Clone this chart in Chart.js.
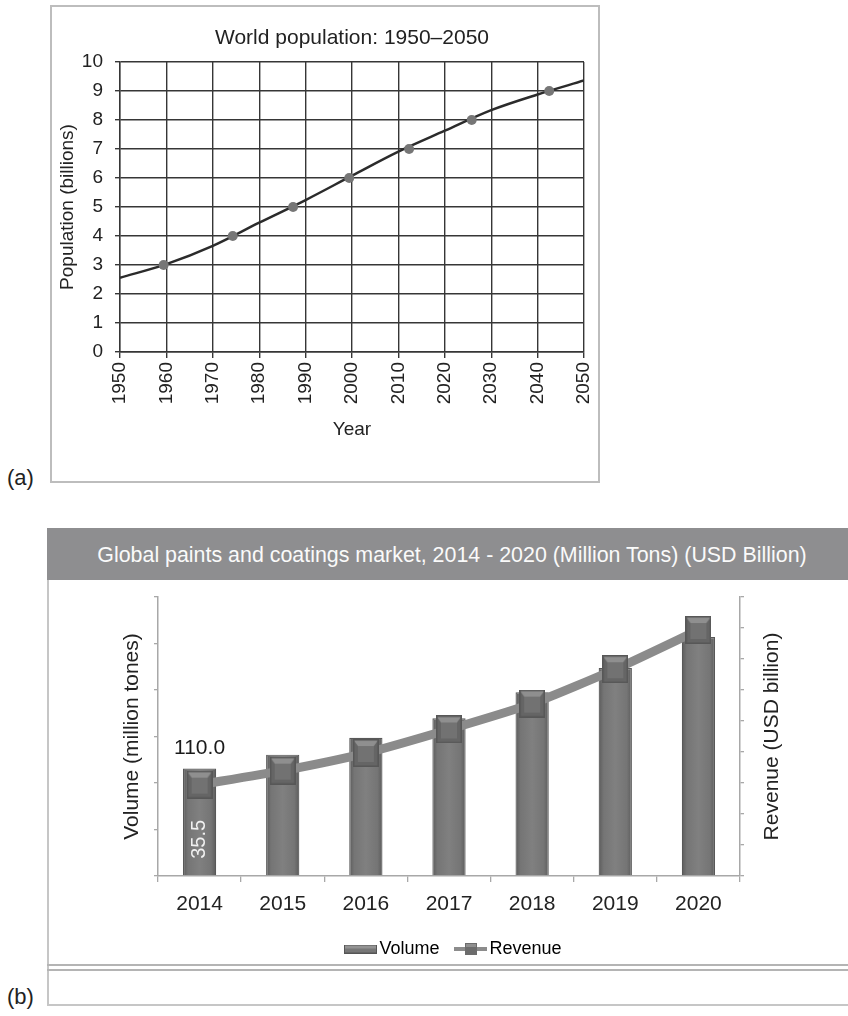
<!DOCTYPE html>
<html>
<head>
<meta charset="utf-8">
<script src="https://cdn.jsdelivr.net/npm/chart.js@4.4.0/dist/chart.umd.min.js"></script>
<style>
  html, body { margin: 0; padding: 0; background: #fff; }
  body { width: 848px; height: 1016px; position: relative; overflow: hidden;
         font-family: "Liberation Sans", Arial, sans-serif; color: #222; }
  .abs { position: absolute; }
  #boxA { left: 50px; top: 5px; width: 550px; height: 478px; border: 2px solid #bdbdbd; box-sizing: border-box; }
  #chartA { left: 50px; top: 5px; }
  #boxB { left: 47px; top: 528px; width: 830px; height: 478px; border: 2px solid #c6c6c6; box-sizing: border-box; }
  #headB { left: 47px; top: 528px; width: 810px; height: 52px; background: #8e8e90; color: #fafafa;
           font-size: 21.4px; line-height: 54px; text-align: center; white-space: nowrap; }
  .sep { left: 47px; width: 820px; height: 2px; background: #b4b4b4; }
  #chartB { left: 47px; top: 580px; }
  .tag { font-size: 22px; color: #222; }
</style>
</head>
<body>
<div id="boxA" class="abs"></div>
<canvas id="chartA" class="abs" width="550" height="478"></canvas>
<div class="abs tag" style="left:7px; top:465px;">(a)</div>

<div id="boxB" class="abs"></div>
<div id="headB" class="abs">Global paints and coatings market, 2014 - 2020 (Million Tons) (USD Billion)</div>
<div class="abs sep" style="top:964px;"></div>
<div class="abs sep" style="top:969px;"></div>
<canvas id="chartB" class="abs" width="801" height="388"></canvas>
<div class="abs tag" style="left:7px; top:984px;">(b)</div>

<script>
// (a) world population
const popYears = [1950, 1960, 1970, 1980, 1990, 2000, 2010, 2020, 2030, 2040, 2050];
const popBillions = [2.56, 3.03, 3.66, 4.46, 5.24, 6.08, 6.91, 7.63, 8.34, 8.88, 9.36];
const milestoneYears = [1959.4, 1974.3, 1987.3, 1999.4, 2012.3, 2025.8, 2042.5];
const milestoneBillions = [3, 4, 5, 6, 7, 8, 9];

// (b) paints and coatings
const marketYears = ["2014", "2015", "2016", "2017", "2018", "2019", "2020"];
const volume = [35.5, 40.1, 45.7, 52.1, 60.7, 68.7, 79.0];
const revenue = [110.0, 126.9, 148.1, 176.5, 207.6, 249.0, 296.2];

Chart.defaults.font.family = '"Liberation Sans", Arial, sans-serif';
Chart.defaults.color = "#222";

const gridDark = "#363636";

new Chart(document.getElementById("chartA"), {
    type: "line",
    data: {
        datasets: [{
            data: milestoneYears.map((x, i) => ({ x: x, y: milestoneBillions[i] })),
            showLine: false,
            pointRadius: 5,
            pointBackgroundColor: "#767676",
            pointBorderWidth: 0
        }, {
            data: popYears.map((x, i) => ({ x: x, y: popBillions[i] })),
            borderColor: "#2b2b2b",
            borderWidth: 2.5,
            pointRadius: 0,
            cubicInterpolationMode: "monotone"
        }]
    },
    options: {
        responsive: false,
        animation: false,
        layout: { autoPadding: false, padding: { left: 6.6, right: 16, top: 0, bottom: 41.6 } },
        plugins: {
            legend: { display: false },
            tooltip: { enabled: false },
            title: {
                display: true,
                text: "World population: 1950\u20132050",
                fullSize: false,
                font: { size: 21, weight: "normal" },
                color: "#222",
                padding: { top: 20.4, bottom: 11.4 }
            }
        },
        scales: {
            x: {
                type: "linear",
                min: 1950, max: 2050,
                ticks: { stepSize: 10, minRotation: 90, maxRotation: 90, padding: 4,
                         font: { size: 19 }, color: "#222", callback: v => String(v) },
                grid: { color: gridDark, lineWidth: 1.4, tickLength: 6 },
                border: { color: gridDark, width: 1.4 },
                title: { display: true, text: "Year", font: { size: 19 }, color: "#222", padding: 0 },
                afterFit: s => { s.height = 89.4; s.paddingLeft = 0; s.paddingRight = 0; }
            },
            y: {
                min: 0, max: 10,
                ticks: { stepSize: 1, padding: 12, font: { size: 19 }, color: "#222" },
                grid: { color: gridDark, lineWidth: 1.4, tickLength: 5 },
                border: { color: gridDark, width: 1.4 },
                title: { display: true, text: "Population (billions)", font: { size: 19 }, color: "#222", padding: 0 },
                afterFit: s => { s.width = 63.4; }
            }
        }
    }
});

// bevelled square marker like the spreadsheet style
function makeMarker(w, h) {
    const c = document.createElement("canvas");
    c.width = w; c.height = h;
    const g = c.getContext("2d");
    g.fillStyle = "#656565";
    g.fillRect(0, 0, w, h);
    g.fillStyle = "#8f8f8f";
    g.beginPath();
    g.moveTo(0, 0); g.lineTo(w, 0); g.lineTo(w - 5, 7); g.lineTo(5, 7); g.closePath();
    g.fill();
    g.fillStyle = "#727272";
    g.fillRect(5, 7, w - 10, h - 12);
    g.strokeStyle = "#575757";
    g.lineWidth = 1.5;
    g.strokeRect(0.75, 0.75, w - 1.5, h - 1.5);
    return c;
}

function makeVolumeIcon() {
    const c = document.createElement("canvas");
    c.width = 33; c.height = 9;
    const g = c.getContext("2d");
    g.fillStyle = "#777";
    g.fillRect(0, 0, 33, 9);
    g.fillStyle = "#939393";
    g.fillRect(1, 1, 31, 3);
    g.strokeStyle = "#555";
    g.strokeRect(0.5, 0.5, 32, 8);
    return c;
}

function makeRevenueIcon() {
    const c = document.createElement("canvas");
    c.width = 33; c.height = 14;
    const g = c.getContext("2d");
    g.fillStyle = "#8c8c8c";
    g.fillRect(0, 5, 33, 4);
    g.fillStyle = "#6c6c6c";
    g.fillRect(11, 1, 12, 12);
    g.fillStyle = "#8f8f8f";
    g.fillRect(12, 2, 10, 3);
    return c;
}

const marker = makeMarker(26, 28);
const volumeIcon = makeVolumeIcon();
const revenueIcon = makeRevenueIcon();

function barFill(c) {
    const chart = c.chart;
    if (!chart.chartArea || !chart.scales.x) return "#7b7b7b";
    const x = chart.scales.x.getPixelForValue(c.dataIndex);
    const g = chart.ctx.createLinearGradient(x - 16.5, 0, x + 16.5, 0);
    g.addColorStop(0, "#5c5c5c");
    g.addColorStop(0.15, "#757575");
    g.addColorStop(0.5, "#808080");
    g.addColorStop(0.85, "#757575");
    g.addColorStop(1, "#5c5c5c");
    return g;
}

// value labels for 2014 and the right axis title (reads bottom to top)
const extraText = {
    id: "extraText",
    afterDatasetsDraw(chart) {
        const ctx = chart.ctx;
        const bar = chart.getDatasetMeta(0).data[0];
        const pt = chart.getDatasetMeta(1).data[0];
        ctx.save();
        ctx.textAlign = "center";
        ctx.textBaseline = "middle";
        ctx.fillStyle = "#1a1a1a";
        ctx.font = '21px "Liberation Sans", Arial, sans-serif';
        ctx.fillText(revenue[0].toFixed(1), bar.x, pt.y - 36);
        ctx.translate(bar.x, bar.base - 36);
        ctx.rotate(-Math.PI / 2);
        ctx.fillStyle = "#f0f0f0";
        ctx.font = '20px "Liberation Sans", Arial, sans-serif';
        ctx.fillText(volume[0].toFixed(1), 0, 0);
        ctx.restore();

        const area = chart.chartArea;
        ctx.save();
        ctx.translate(chart.scales.y1.left + 32, (area.top + area.bottom) / 2);
        ctx.rotate(-Math.PI / 2);
        ctx.textAlign = "center";
        ctx.textBaseline = "middle";
        ctx.fillStyle = "#222";
        ctx.font = '21px "Liberation Sans", Arial, sans-serif';
        ctx.fillText("Revenue (USD billion)", 0, 0);
        ctx.restore();
    }
};

const axisGray = "#a8a8a8";

new Chart(document.getElementById("chartB"), {
    type: "bar",
    data: {
        labels: marketYears,
        datasets: [{
            type: "bar",
            label: "Volume",
            data: volume,
            yAxisID: "y",
            order: 1,
            backgroundColor: barFill,
            borderColor: "#585858",
            borderWidth: 1.2,
            barPercentage: 0.4,
            categoryPercentage: 1.0
        }, {
            type: "line",
            label: "Revenue",
            data: revenue,
            yAxisID: "y1",
            order: 0,
            borderColor: "#8b8b8b",
            borderWidth: 9,
            tension: 0.2,
            pointStyle: marker,
            pointRadius: 13
        }]
    },
    options: {
        responsive: false,
        animation: false,
        layout: { autoPadding: false, padding: { left: 17, right: 0, top: 17, bottom: 0 } },
        plugins: {
            tooltip: { enabled: false },
            legend: {
                position: "bottom",
                labels: {
                    usePointStyle: true,
                    pointStyleWidth: 20,
                    padding: 21,
                    font: { size: 18 },
                    color: "#222",
                    generateLabels: () => [
                        { text: "Volume", pointStyle: volumeIcon, lineWidth: 0, hidden: false, datasetIndex: 0 },
                        { text: "Revenue", pointStyle: revenueIcon, lineWidth: 0, hidden: false, datasetIndex: 1 }
                    ]
                }
            }
        },
        scales: {
            x: {
                ticks: { font: { size: 21 }, color: "#222", padding: 9.4 },
                grid: { drawOnChartArea: false, color: axisGray, tickLength: 6, lineWidth: 1.3 },
                border: { color: axisGray, width: 1.5 },
                afterFit: s => { s.height = 43; }
            },
            y: {
                position: "left",
                min: 0, max: 92.2,
                ticks: { count: 7, display: false },
                grid: { drawOnChartArea: false, color: axisGray, tickLength: 4, lineWidth: 1.3 },
                border: { color: axisGray, width: 1.5 },
                title: { display: true, text: "Volume (million tones)", font: { size: 21 }, color: "#222", padding: { top: 55.4, bottom: 0 } },
                afterFit: s => { s.width = 94; }
            },
            y1: {
                position: "right",
                min: 0, max: 336,
                ticks: { count: 10, display: false },
                grid: { drawOnChartArea: false, color: axisGray, tickLength: 4, lineWidth: 1.3 },
                border: { color: axisGray, width: 1.5 },
                afterFit: s => { s.width = 108; }
            }
        }
    },
    plugins: [extraText]
});
</script>
</body>
</html>
